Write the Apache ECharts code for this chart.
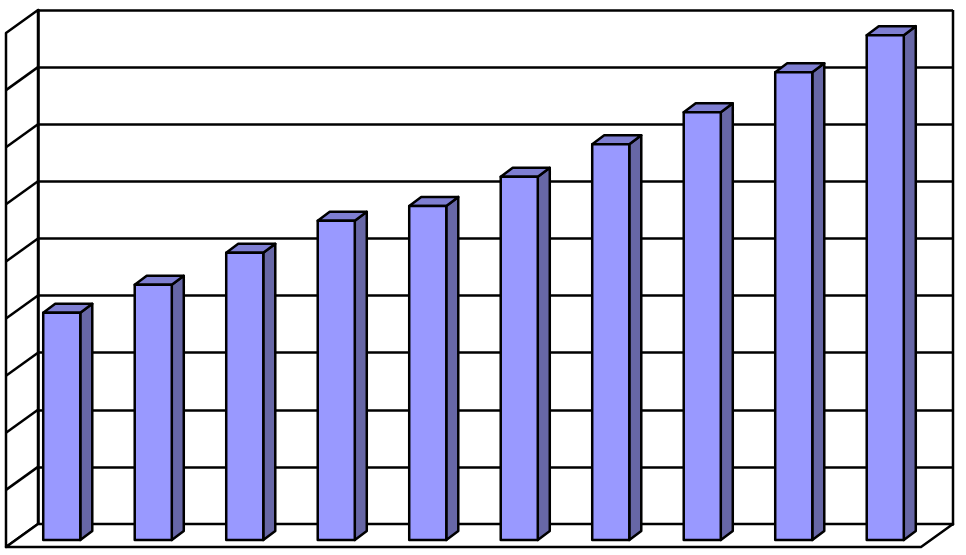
<!DOCTYPE html>
<html>
<head>
<meta charset="utf-8">
<style>
  html, body { margin: 0; padding: 0; background: #fff; }
  #chart { width: 966px; height: 555px; }
</style>
<script src="https://cdn.jsdelivr.net/npm/echarts@6/dist/echarts.min.js"></script>
</head>
<body>
<div id="chart"></div>
<script>
  const categories = ['1', '2', '3', '4', '5', '6', '7', '8', '9', '10'];
  const values = [3.98, 4.47, 5.03, 5.59, 5.85, 6.36, 6.93, 7.49, 8.19, 8.84];
  const ticks = [0, 1, 2, 3, 4, 5, 6, 7, 8, 9];

  // 3d look: wall depth and bar depth in pixels
  const wallDx = 32, wallDy = 23;
  const barShiftX = -22, barShiftY = 16;
  const barDx = 12, barDy = 9;
  const line = { stroke: '#000', lineWidth: 2.5, lineJoin: 'round' };

  const myChart = echarts.init(document.getElementById('chart'));

  function renderFrame(params, api) {
    const band = api.size([1, 0])[0];
    const xl = api.coord([0, 0])[0] - band / 2;
    const xr = api.coord([categories.length - 1, 0])[0] + band / 2;
    const yB = api.coord([0, ticks[0]])[1];
    const yT = api.coord([0, ticks[ticks.length - 1]])[1];
    const children = [];
    // left wall
    children.push({
      type: 'polygon',
      shape: { points: [[xl, yT], [xl, yB], [xl - wallDx, yB + wallDy], [xl - wallDx, yT + wallDy]] },
      style: Object.assign({ fill: '#fff' }, line),
    });
    // floor
    children.push({
      type: 'polygon',
      shape: { points: [[xl, yB], [xr, yB], [xr - wallDx, yB + wallDy], [xl - wallDx, yB + wallDy]] },
      style: Object.assign({ fill: '#fff' }, line),
    });
    ticks.slice(1, -1).forEach((t) => {
      const y = api.coord([0, t])[1];
      children.push({
        type: 'line',
        shape: { x1: xl, y1: y, x2: xl - wallDx, y2: y + wallDy },
        style: line,
      });
    });
    // right edge of back wall
    children.push({
      type: 'line',
      shape: { x1: xr, y1: yT, x2: xr, y2: yB },
      style: line,
    });
    return { type: 'group', children };
  }

  function renderBar(params, api) {
    const idx = api.value(0);
    const top = api.coord([idx, api.value(1)]);
    const base = api.coord([idx, 0]);
    const band = api.size([1, 0])[0];
    const w = band * 0.405;
    const x0 = top[0] - w / 2 + barShiftX;
    const x1 = top[0] + w / 2 + barShiftX;
    const yt = top[1] + barShiftY;
    const yb = base[1] + barShiftY;
    return {
      type: 'group',
      children: [
        {
          type: 'polygon',
          shape: { points: [[x1, yt], [x1 + barDx, yt - barDy], [x1 + barDx, yb - barDy], [x1, yb]] },
          style: Object.assign({ fill: '#6767a6' }, line),
        },
        {
          type: 'polygon',
          shape: { points: [[x0, yt], [x1, yt], [x1 + barDx, yt - barDy], [x0 + barDx, yt - barDy]] },
          style: Object.assign({ fill: '#7f7fd2' }, line),
        },
        {
          type: 'rect',
          shape: { x: x0, y: yt, width: x1 - x0, height: yb - yt },
          style: Object.assign({ fill: '#9999ff' }, line),
        },
      ],
    };
  }

  const options = {
    animation: false,
    grid: { left: 38, right: 13, top: 10, bottom: 31 },
    xAxis: {
      type: 'category',
      data: categories,
      axisLine: { show: true, lineStyle: { color: '#000', width: 2.5 } },
      axisTick: { show: false },
      axisLabel: { show: false },
    },
    yAxis: {
      type: 'value',
      min: ticks[0],
      max: ticks[ticks.length - 1],
      interval: 1,
      axisLine: { show: true, lineStyle: { color: '#000', width: 2.5 } },
      axisTick: { show: false },
      axisLabel: { show: false },
      splitLine: { show: true, lineStyle: { color: '#000', width: 2.5 } },
    },
    series: [
      {
        type: 'custom',
        name: 'frame',
        data: [[0, 0]],
        renderItem: renderFrame,
        clip: false,
        silent: true,
        z: 1,
      },
      {
        type: 'custom',
        name: 'values',
        data: values.map((v, i) => [i, v]),
        renderItem: renderBar,
        clip: false,
        z: 3,
      },
    ],
  };

  myChart.setOption(options);
</script>
</body>
</html>
